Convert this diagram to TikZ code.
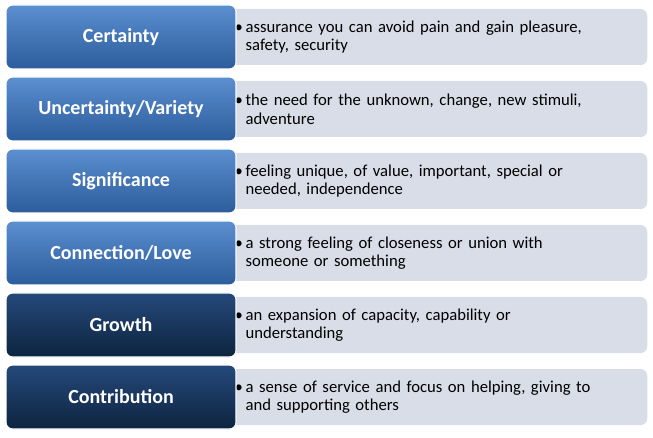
\documentclass[tikz,border=0pt]{standalone}
\usepackage{fontspec}
\setmainfont{Carlito}
\usetikzlibrary{positioning}
\tikzset{>=latex}
\definecolor{lightblue}{HTML}{5B8FD0}
\definecolor{midblue}{HTML}{2C5C9C}
\definecolor{navytop}{HTML}{24497A}
\definecolor{navybot}{HTML}{0E2440}
\definecolor{descfill}{HTML}{D8DDE7}
\begin{document}
\begin{tikzpicture}[x=0.75pt,y=-0.75pt]
        % need = left box, desc = right box
        \tikzstyle{desc}=[rectangle, rounded corners=5pt, fill=descfill, minimum width=314.25pt,
                minimum height=42pt, inner xsep=13pt, text width=288.25pt, align=left,
                font=\fontsize{12.5}{14}\selectfont, anchor=west]
        \tikzstyle{need}=[rectangle, rounded corners=5pt, draw=white, line width=0.8pt, minimum width=172.5pt,
                minimum height=48pt, text=white, font=\fontsize{15}{17}\selectfont\bfseries, anchor=center]
        \useasboundingbox (0,0) rectangle (653,438);
        \foreach \n/\txt/\dsc/\tc/\bc [count=\i from 0] in {
                certainty/Certainty/{assurance you can avoid pain and gain pleasure,\\ safety, security}/lightblue/midblue,
                variety/Uncertainty\slash Variety/{the need for the unknown, change, new stimuli,\\ adventure}/lightblue/midblue,
                significance/Significance/{feeling unique, of value, important, special or\\ needed, independence}/lightblue/midblue,
                connection/Connection\slash Love/{a strong feeling of closeness or union with\\ someone or something}/lightblue/midblue,
                growth/Growth/{an expansion of capacity, capability or\\ understanding}/navytop/navybot,
                contribution/Contribution/{a sense of service and focus on helping, giving to\\ and supporting others}/navytop/navybot}{
                \node[desc] (\n-desc) at (228, 37+72*\i) {\llap{•\,}\dsc};
                \node[need, top color=\tc, bottom color=\bc] (\n) at (121, 37+72*\i) {\txt};
        }
\end{tikzpicture}
\end{document}
